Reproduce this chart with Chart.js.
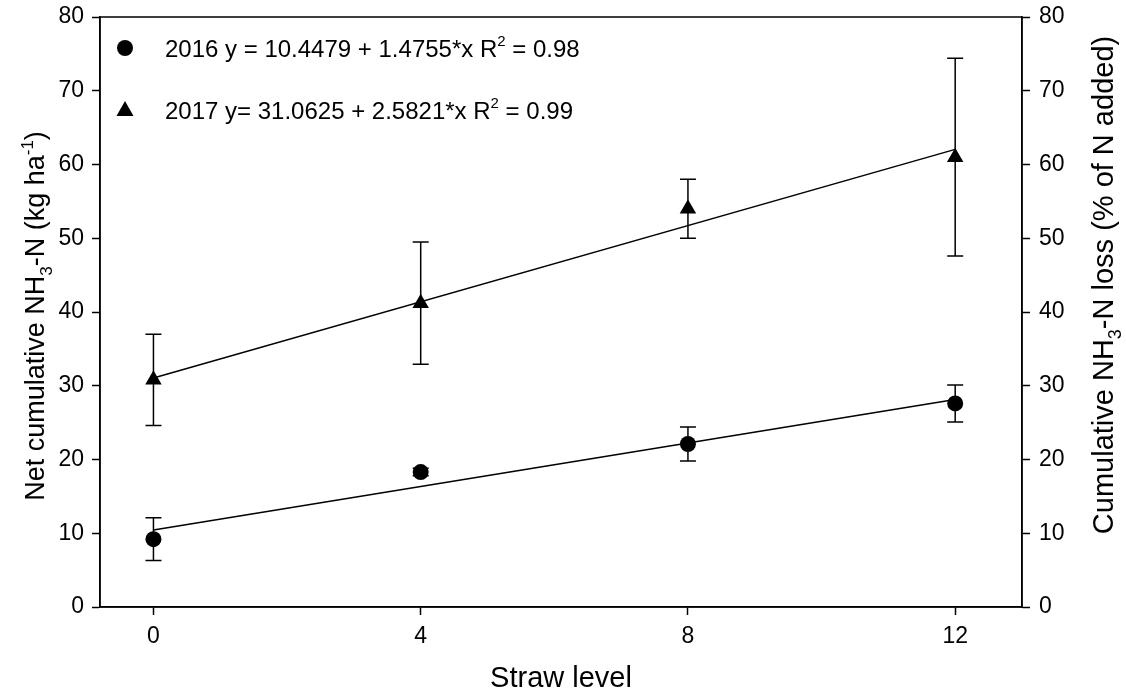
<!DOCTYPE html>
<html>
<head>
<meta charset="utf-8">
<script src="https://cdn.jsdelivr.net/npm/chart.js@4/dist/chart.umd.min.js"></script>
<style>
  html, body { margin: 0; padding: 0; background: #fff; }
  #wrap { width: 1126px; height: 695px; }
</style>
</head>
<body>
<div id="wrap"><canvas id="grafico"></canvas></div>
<script>
// datos
const straw = [0, 4, 8, 12];
const xTicks = [0, 4, 8, 12];
const yTicks = [0, 10, 20, 30, 40, 50, 60, 70, 80];
const mean2016 = [9.2, 18.3, 22.1, 27.6];
const err2016 = [2.9, 0.5, 2.3, 2.5];
const mean2017 = [30.8, 41.2, 54.0, 61.0];
const err2017 = [6.2, 8.3, 4.0, 13.4];
const fitX = [0, 12];
const fit2016 = [10.45, 28.15];
const fit2017 = [31.06, 62.05];
const legendLines = [
  [['2016 y = 10.4479 + 1.4755*x R', 'n'], ['2', 'sup'], [' = 0.98', 'n']],
  [['2017 y= 31.0625 + 2.5821*x R', 'n'], ['2', 'sup'], [' = 0.99', 'n']]
];

const FONT = '"Liberation Sans", Arial, sans-serif';

function puntos(xs, ys) {
  return xs.map((x, i) => ({ x: x, y: ys[i] }));
}

// texto con sub/superindices
function drawRich(ctx, parts, x, y, size, align) {
  const small = Math.round(size * 0.62);
  let w = 0;
  parts.forEach(p => {
    ctx.font = `${p[1] === 'n' ? size : small}px ${FONT}`;
    w += ctx.measureText(p[0]).width;
  });
  let cx = align === 'center' ? x - w / 2 : x;
  ctx.textAlign = 'left';
  ctx.textBaseline = 'alphabetic';
  parts.forEach(p => {
    ctx.font = `${p[1] === 'n' ? size : small}px ${FONT}`;
    let dy = 0;
    if (p[1] === 'sub') dy = size * 0.28;
    if (p[1] === 'sup') dy = -size * 0.42;
    ctx.fillText(p[0], cx, y + dy);
    cx += ctx.measureText(p[0]).width;
  });
}

const errorBars = {
  id: 'errorBars',
  beforeDatasetsDraw(chart) {
    const ctx = chart.ctx;
    const xs = chart.scales.x, ys = chart.scales.y;
    ctx.save();
    ctx.strokeStyle = '#000';
    ctx.lineWidth = 1.5;
    [[mean2016, err2016], [mean2017, err2017]].forEach(([m, e]) => {
      straw.forEach((sx, i) => {
        const px = xs.getPixelForValue(sx);
        const top = ys.getPixelForValue(m[i] + e[i]);
        const bot = ys.getPixelForValue(m[i] - e[i]);
        ctx.beginPath();
        ctx.moveTo(px, top); ctx.lineTo(px, bot);
        ctx.moveTo(px - 8, top); ctx.lineTo(px + 8, top);
        ctx.moveTo(px - 8, bot); ctx.lineTo(px + 8, bot);
        ctx.stroke();
      });
    });
    ctx.restore();
  }
};

const decor = {
  id: 'decor',
  afterDraw(chart) {
    const ctx = chart.ctx;
    const a = chart.chartArea;
    ctx.save();
    ctx.strokeStyle = '#000';
    ctx.lineWidth = 1.5;
    ctx.strokeRect(a.left, a.top, a.right - a.left, a.bottom - a.top);
    ctx.fillStyle = '#000';

    // leyenda
    ctx.beginPath();
    ctx.arc(125, 48, 8, 0, Math.PI * 2);
    ctx.fill();
    ctx.beginPath();
    ctx.moveTo(125, 101); ctx.lineTo(133.5, 116); ctx.lineTo(116.5, 116);
    ctx.closePath();
    ctx.fill();
    drawRich(ctx, legendLines[0], 165, 56.5, 24, 'left');
    drawRich(ctx, legendLines[1], 165, 118.5, 24, 'left');

    // titulos de ejes
    drawRich(ctx, [['Straw level', 'n']], (a.left + a.right) / 2, 687, 29, 'center');
    ctx.save();
    ctx.translate(34, 316);
    ctx.rotate(-Math.PI / 2);
    drawRich(ctx, [['Net cumulative NH', 'n'], ['3', 'sub'], ['-N (kg ha', 'n'], ['-1', 'sup'], [')', 'n']], 0, 10, 27, 'center');
    ctx.restore();
    ctx.save();
    ctx.translate(1103, 285);
    ctx.rotate(-Math.PI / 2);
    drawRich(ctx, [['Cumulative NH', 'n'], ['3', 'sub'], ['-N loss (% of N added)', 'n']], 0, 10, 29, 'center');
    ctx.restore();
    ctx.restore();
  }
};

const ejeY = (pos, ancho, pad) => ({
  type: 'linear',
  position: pos,
  min: 0,
  max: 80,
  afterBuildTicks: s => { s.ticks = yTicks.map(v => ({ value: v })); },
  afterFit: s => { s.width = ancho; s.paddingTop = 0; s.paddingBottom = 0; },
  ticks: { color: '#000', font: { family: FONT, size: 23 }, padding: pad },
  grid: { drawOnChartArea: false, drawTicks: true, tickLength: 8, color: '#000', tickColor: '#000', tickWidth: 1.5 },
  border: { display: true, color: '#000', width: 1.5 }
});

const ctx = document.getElementById('grafico').getContext('2d');
window.graficoPaja = new Chart(ctx, {
  type: 'scatter',
  data: {
    datasets: [
      {
        type: 'line', data: puntos(fitX, fit2016), borderColor: '#000', borderWidth: 1.5,
        pointRadius: 0, fill: false, yAxisID: 'y', order: 3
      },
      {
        type: 'line', data: puntos(fitX, fit2017), borderColor: '#000', borderWidth: 1.5,
        pointRadius: 0, fill: false, yAxisID: 'y', order: 3
      },
      {
        label: '2016', data: puntos(straw, mean2016), pointStyle: 'circle', pointRadius: 8,
        backgroundColor: '#000', borderColor: '#000', borderWidth: 0, yAxisID: 'y', order: 1
      },
      {
        label: '2017', data: puntos(straw, mean2017), pointStyle: 'triangle', pointRadius: 9.5,
        backgroundColor: '#000', borderColor: '#000', borderWidth: 0, yAxisID: 'y', order: 1
      }
    ]
  },
  options: {
    responsive: true,
    maintainAspectRatio: false,
    animation: false,
    layout: { padding: { top: 17, left: 0, right: 0, bottom: 0 } },
    plugins: { legend: { display: false }, tooltip: { enabled: false } },
    scales: {
      x: {
        type: 'linear',
        min: -0.8,
        max: 13,
        afterBuildTicks: s => { s.ticks = xTicks.map(v => ({ value: v })); },
        afterFit: s => { s.height = 88; s.paddingLeft = 0; s.paddingRight = 0; },
        ticks: { color: '#000', font: { family: FONT, size: 23 }, padding: 8 },
        grid: { drawOnChartArea: false, drawTicks: true, tickLength: 8, color: '#000', tickColor: '#000', tickWidth: 1.5 },
        border: { display: true, color: '#000', width: 1.5 }
      },
      y: ejeY('left', 100, 8),
      y2: ejeY('right', 104, 9)
    }
  },
  plugins: [errorBars, decor]
});
</script>
</body>
</html>
